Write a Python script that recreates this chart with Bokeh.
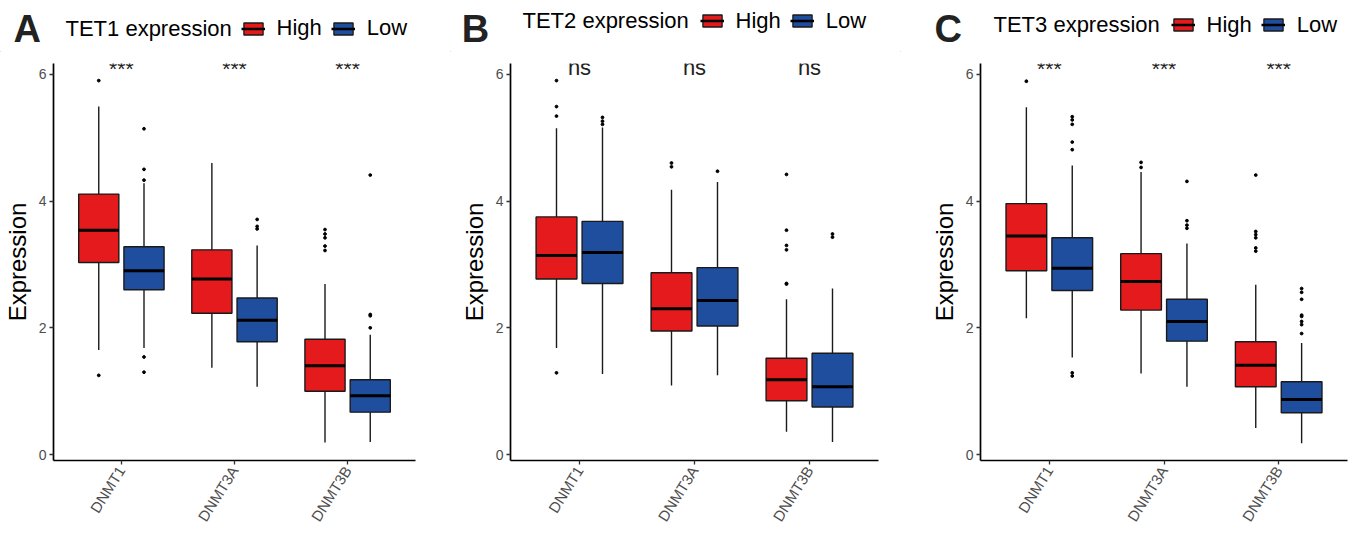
from bokeh.plotting import figure
from bokeh.models import (ColumnDataSource, FactorRange, Range1d, Legend, LegendItem, FixedTicker)
from bokeh.core.properties import value
from bokeh.transform import dodge
from bokeh.layouts import row, column
from bokeh.embed import file_html
from bokeh.resources import INLINE

genes = ["DNMT1", "DNMT3A", "DNMT3B"]
groups = ["High", "Low"]

# ---- Panel A: TET1 expression ----
tet1_high_lower = [1.65, 1.37, 0.19]
tet1_high_q1 = [3.03, 2.23, 1.00]
tet1_high_median = [3.54, 2.77, 1.40]
tet1_high_q3 = [4.11, 3.23, 1.82]
tet1_high_upper = [5.49, 4.60, 2.69]
tet1_high_outliers = [[5.90, 1.25], [], [3.55, 3.48, 3.42, 3.29, 3.22]]
tet1_low_lower = [1.68, 1.07, 0.20]
tet1_low_q1 = [2.60, 1.78, 0.67]
tet1_low_median = [2.90, 2.12, 0.93]
tet1_low_q3 = [3.28, 2.47, 1.18]
tet1_low_upper = [4.28, 3.30, 1.89]
tet1_low_outliers = [[5.14, 4.50, 4.33, 1.54, 1.30], [3.71, 3.60, 3.56], [4.41, 2.21, 2.19, 2.00]]
tet1_signif = ["***", "***", "***"]

# ---- Panel B: TET2 expression ----
tet2_high_lower = [1.68, 1.09, 0.36]
tet2_high_q1 = [2.77, 1.95, 0.85]
tet2_high_median = [3.14, 2.30, 1.18]
tet2_high_q3 = [3.75, 2.87, 1.52]
tet2_high_upper = [5.15, 4.18, 2.45]
tet2_high_outliers = [[5.90, 5.49, 5.34, 1.29], [4.60, 4.54], [4.42, 3.54, 3.30, 3.23, 2.70, 2.69]]
tet2_low_lower = [1.27, 1.25, 0.20]
tet2_low_q1 = [2.70, 2.03, 0.75]
tet2_low_median = [3.19, 2.43, 1.07]
tet2_low_q3 = [3.68, 2.95, 1.60]
tet2_low_upper = [5.16, 4.30, 2.62]
tet2_low_outliers = [[5.32, 5.26, 5.21], [4.47], [3.48, 3.43]]
tet2_signif = ["ns", "ns", "ns"]

# ---- Panel C: TET3 expression ----
tet3_high_lower = [2.15, 1.28, 0.42]
tet3_high_q1 = [2.90, 2.28, 1.07]
tet3_high_median = [3.45, 2.73, 1.41]
tet3_high_q3 = [3.96, 3.17, 1.78]
tet3_high_upper = [5.48, 4.46, 2.68]
tet3_high_outliers = [[5.89], [4.61, 4.53], [4.41, 3.52, 3.47, 3.42, 3.26, 3.21]]
tet3_low_lower = [1.53, 1.07, 0.18]
tet3_low_q1 = [2.59, 1.79, 0.66]
tet3_low_median = [2.94, 2.10, 0.87]
tet3_low_q3 = [3.42, 2.45, 1.15]
tet3_low_upper = [4.56, 3.33, 1.76]
tet3_low_outliers = [[5.33, 5.28, 5.21, 4.93, 4.81, 1.29, 1.24], [4.31, 3.69, 3.62, 3.57],
                     [2.62, 2.56, 2.45, 2.20, 2.18, 2.10, 2.05, 1.91]]
tet3_signif = ["***", "***", "***"]

RED = "#E41A1C"
BLUE = "#1F4E9E"
EDGE = "#1a1a1a"
FONT = "Liberation Sans"
BOX_W = 0.355
OFFSET = 0.2
SIG_Y = 5.98         # baseline of the significance labels
PX_PER_UNIT = 64.0
BASE_SHIFT = 0.35    # em shift applied so the text baseline lands where intended
HEADER_H = 52


def add_group(p, lower, q1, med, q3, upper, outliers, offset, color):
    xr = p.x_range
    src = ColumnDataSource(dict(gene=genes, lower=lower, q1=q1, med=med, q3=q3, upper=upper))
    p.segment(x0=dodge("gene", offset, range=xr), y0="lower",
              x1=dodge("gene", offset, range=xr), y1="upper",
              source=src, line_color=EDGE, line_width=1.4)
    p.vbar(x=dodge("gene", offset, range=xr), width=BOX_W, bottom="q1", top="q3",
           source=src, fill_color=color, line_color=EDGE, line_width=1.4)
    p.segment(x0=dodge("gene", offset - BOX_W / 2, range=xr), y0="med",
              x1=dodge("gene", offset + BOX_W / 2, range=xr), y1="med",
              source=src, line_color="black", line_width=3)
    ox = [g for g, vals in zip(genes, outliers) for _ in vals]
    oy = [v for vals in outliers for v in vals]
    p.scatter(x=dodge("gene", offset, range=xr), y="y",
              source=ColumnDataSource(dict(gene=ox, y=oy)),
              size=2.8, color="black")


def make_header(letter, title, lay):
    h = figure(width=lay["w"], height=HEADER_H, x_range=Range1d(0, lay["w"]),
               y_range=Range1d(0, HEADER_H), output_backend="svg", toolbar_location=None,
               x_axis_location=None, y_axis_location=None,
               min_border=0, min_border_left=0, min_border_right=0,
               min_border_top=0, min_border_bottom=0)
    h.xgrid.visible = False
    h.ygrid.visible = False
    h.outline_line_color = None
    h.text(x=[lay["ax"]], y=[HEADER_H - lay["ay"] + BASE_SHIFT * 38], text=[letter],
           text_font=value(FONT), text_font_size="38px", text_font_style="bold",
           text_color="#222222", text_baseline="alphabetic", text_align="left")
    h.text(x=[lay["tx"]], y=[HEADER_H - lay["ty"] + BASE_SHIFT * 22], text=[title],
           text_font=value(FONT), text_font_size="22px", text_color="black",
           text_baseline="alphabetic", text_align="left")
    # legend key renderers: one glyph each, kept outside the visible header area
    off = ColumnDataSource(dict(x=[-100], x0=[-110], x1=[-90], y0=[-100], y1=[-90]))
    keys = []
    for color in (RED, BLUE):
        kb = h.vbar(x="x", width=1, bottom="y0", top="y1", source=off,
                    fill_color=color, line_color=EDGE, line_width=1.3)
        km = h.segment(x0="x0", y0="y0", x1="x1", y1="y0", source=off,
                       line_color="black", line_width=2.5)
        keys.append([kb, km])
    leg = Legend(items=[LegendItem(label=groups[0], renderers=keys[0]),
                        LegendItem(label=groups[1], renderers=keys[1])],
                 location=(lay["lx"], HEADER_H - lay["lc"] - 12.5), orientation="horizontal",
                 glyph_width=24, glyph_height=15, label_standoff=12, spacing=9,
                 padding=0, margin=0, border_line_alpha=0, background_fill_alpha=0,
                 label_text_font=FONT, label_text_font_size="22px", label_text_color="black")
    h.add_layout(leg)
    return h


def make_panel(high, low, signif, sig_px, lay):
    p = figure(width=lay["w"], height=lay["h"],
               x_range=FactorRange(factors=genes, range_padding=0.1, range_padding_units="absolute"),
               y_range=Range1d(-0.093, 6.17),
               output_backend="svg", toolbar_location=None,
               min_border_left=lay["bl"], min_border_right=lay["br"],
               min_border_top=lay["bt"], min_border_bottom=lay["bb"])
    p.xgrid.visible = False
    p.ygrid.visible = False
    p.outline_line_color = None

    add_group(p, *high, -OFFSET, RED)
    add_group(p, *low, OFFSET, BLUE)

    sig_y = SIG_Y + BASE_SHIFT * sig_px / PX_PER_UNIT
    sig_src = ColumnDataSource(dict(gene=genes, label=signif, y=[sig_y] * len(genes)))
    p.text(x="gene", y="y", text="label", source=sig_src,
           text_font=value(FONT), text_font_size=f"{sig_px}px", text_color="#222222",
           text_align="center", text_baseline="alphabetic")

    for ax in (p.xaxis[0], p.yaxis[0]):
        ax.axis_line_width = 1.7
        ax.axis_line_color = "black"
        ax.major_tick_line_color = "#333333"
        ax.major_tick_line_width = 1.3
        ax.major_tick_out = 4
        ax.major_tick_in = 0
        ax.minor_tick_out = 0
        ax.minor_tick_in = 0
        ax.major_label_text_font = FONT
        ax.major_label_text_color = "#4D4D4D"
        ax.major_label_standoff = 3
    p.yaxis.major_label_text_font_size = "14px"
    p.xaxis.major_label_text_font_size = "15px"
    p.yaxis.ticker = FixedTicker(ticks=[0, 2, 4, 6])
    p.yaxis.axis_label = "Expression"
    p.yaxis.axis_label_text_font = FONT
    p.yaxis.axis_label_text_font_size = "24px"
    p.yaxis.axis_label_text_font_style = "normal"
    p.yaxis.axis_label_text_color = "black"
    p.yaxis.axis_label_standoff = 5
    p.xaxis.major_label_orientation = 1.01
    return p


# page-y positions (from the top) of letter / title baselines and legend row centre
lay_a = dict(w=450, h=480, bl=53, br=35, bt=11, bb=70,
             ax=13, ay=42, tx=65, ty=36, lx=240.6, lc=28.5)
lay_b = dict(w=450, h=480, bl=60, br=22, bt=4, bb=72,
             ax=11.3, ay=42, tx=72, ty=28, lx=249.6, lc=21)
lay_c = dict(w=448, h=480, bl=80, br=1, bt=6, bb=69,
             ax=34, ay=42, tx=93, ty=32, lx=270.6, lc=25)

ha = make_header("A", "TET1 expression", lay_a)
hb = make_header("B", "TET2 expression", lay_b)
hc = make_header("C", "TET3 expression", lay_c)

pa = make_panel((tet1_high_lower, tet1_high_q1, tet1_high_median, tet1_high_q3, tet1_high_upper, tet1_high_outliers),
                (tet1_low_lower, tet1_low_q1, tet1_low_median, tet1_low_q3, tet1_low_upper, tet1_low_outliers),
                tet1_signif, 21, lay_a)
pb = make_panel((tet2_high_lower, tet2_high_q1, tet2_high_median, tet2_high_q3, tet2_high_upper, tet2_high_outliers),
                (tet2_low_lower, tet2_low_q1, tet2_low_median, tet2_low_q3, tet2_low_upper, tet2_low_outliers),
                tet2_signif, 22, lay_b)
pc = make_panel((tet3_high_lower, tet3_high_q1, tet3_high_median, tet3_high_q3, tet3_high_upper, tet3_high_outliers),
                (tet3_low_lower, tet3_low_q1, tet3_low_median, tet3_low_q3, tet3_low_upper, tet3_low_outliers),
                tet3_signif, 21, lay_c)

layout = column(row(ha, hb, hc), row(pa, pb, pc))
open("out.html", "w").write(file_html(layout, INLINE))
